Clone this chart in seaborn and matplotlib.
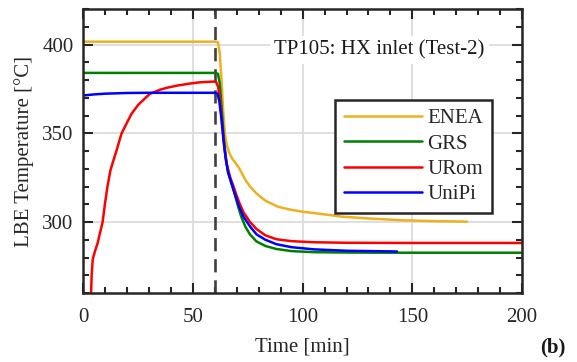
import numpy as np
import pandas as pd
import matplotlib
matplotlib.use("Agg")
import matplotlib.pyplot as plt
import seaborn as sns
from matplotlib.ticker import MultipleLocator

# ---- data ----
enea_t = [0, 60, 61.4, 62.2, 63, 63.8, 64.5, 65.5, 66.7, 68, 69.5, 71, 72.5, 74, 76, 79,
          83, 89, 95, 100, 108, 118, 130, 145, 160, 175]
enea_T = [401.6, 401.6, 401.2, 395, 380, 362, 350, 343, 338.5, 335.5, 333, 330.5, 327, 323.5,
          320, 316, 312, 308.5, 306.8, 305.8, 304.6, 303, 302, 301, 300.5, 300.2]

grs_t = [0, 60, 61.4, 62.2, 63, 64, 65, 66, 67.5, 69, 70.5, 72, 74, 76, 79, 83, 88, 95,
         105, 120, 140, 170, 200]
grs_T = [384, 384, 383.5, 378, 365, 348, 336, 328, 322, 316, 309, 303, 297, 293, 289, 286.5,
         284.8, 283.6, 283, 282.8, 282.7, 282.7, 282.7]

urom_t = [3.4, 3.8, 4.3, 5.3, 6.5, 7.6, 8.8, 9.9, 11, 12.4, 13.8, 15.2, 17.4, 19.5, 22, 25,
          28, 30.3, 34.9, 38, 43, 48, 53, 59, 60.5, 61.5, 62.5, 63.5, 64.5, 65.5, 67, 68.5,
          70, 71.2, 73, 76, 79, 83, 88, 95, 105, 120, 150, 200]
urom_T = [255, 270, 279, 283.5, 288, 293.8, 300, 310.6, 320, 329.3, 335, 340.5, 349.8, 355,
          361, 366, 369.5, 372.2, 374.5, 375.6, 376.9, 377.9, 378.7, 379.1, 379, 376, 366,
          352, 340, 332, 325, 320, 314.5, 310.6, 305.5, 300, 296, 292.5, 290.3, 289.2,
          288.6, 288.3, 288.2, 288.2]

unipi_t = [0, 5, 10, 20, 30, 60, 61.2, 62, 63, 64, 65, 66, 67.5, 69, 71, 73, 76, 79, 83, 88,
           95, 105, 120, 143]
unipi_T = [371.3, 371.9, 372.3, 372.7, 372.8, 372.8, 372.3, 368, 358, 345, 335, 328, 322,
           316, 308.7, 303, 297.5, 293, 290, 287.5, 285.8, 284.6, 283.8, 283.4]

series_names = ["ENEA", "GRS", "URom", "UniPi"]
colors = ["#EDB120", "#008000", "#FF0000", "#0000FF"]
event_time = 60
x_ticks = [0, 50, 100, 150, 200]
y_ticks = [300, 350, 400]

frames = []
for name, t, T in zip(series_names, [enea_t, grs_t, urom_t, unipi_t],
                      [enea_T, grs_T, urom_T, unipi_T]):
    frames.append(pd.DataFrame({"Time": t, "Temp": T, "Code": name}))
df = pd.concat(frames, ignore_index=True)

# ---- style ----
sns.set_theme(style="white")
plt.rcParams["font.family"] = ["Liberation Serif", "DejaVu Serif"]
FS = 15
INK = "#262626"

fig = plt.figure(figsize=(5.77, 3.62), dpi=100)
ax = fig.add_axes([0.1444, 0.1906, 0.9047 - 0.1444, 0.9751 - 0.1906])

ax.grid(True, which="major", color="#dcdcdc", linewidth=1.3)
ax.set_axisbelow(True)

ax.axvline(event_time, color="#404040", linestyle=(0, (5, 3)), linewidth=1.9, zorder=1.5)

for name, c in zip(series_names, colors):
    sub = df[df["Code"] == name]
    sns.lineplot(data=sub, x="Time", y="Temp", color=c, sort=False, estimator=None,
                 linewidth=1.8, ax=ax, label=name)

ax.set_xlim(0, 200)
ax.set_ylim(260, 420)
ax.set_xticks(x_ticks)
ax.set_yticks(y_ticks)
ax.xaxis.set_minor_locator(MultipleLocator(10))
ax.yaxis.set_minor_locator(MultipleLocator(10))
ax.tick_params(which="both", direction="in", top=True, right=True, bottom=True, left=True,
               color=INK, width=1.5, labelsize=FS, labelcolor=INK)
ax.tick_params(which="major", length=7)
ax.tick_params(which="minor", length=4)
ax.tick_params(axis="x", which="major", pad=10.5)
ax.tick_params(axis="y", which="major", pad=7)
for s in ax.spines.values():
    s.set_color(INK)
    s.set_linewidth(1.8)

ax.set_xlabel("Time [min]", fontsize=FS, color=INK, labelpad=8)
ax.set_ylabel("LBE Temperature [°C]", fontsize=FS, color=INK, labelpad=6)

ax.text(0.915, 0.856, "TP105: HX inlet (Test-2)", transform=ax.transAxes, ha="right",
        va="center", fontsize=FS, color="#1a1a1a",
        bbox=dict(facecolor="white", edgecolor="none", pad=3))

leg = ax.legend(loc="upper left", bbox_to_anchor=(0.574, 0.68), fontsize=FS, frameon=True,
                fancybox=False, handlelength=3.75, handletextpad=0.25, borderpad=0.42,
                labelspacing=0.28, borderaxespad=0, framealpha=1)
leg.get_frame().set_edgecolor(INK)
leg.get_frame().set_linewidth(1.8)
for line in leg.get_lines():
    line.set_linewidth(1.8)

fig.text(0.958, 0.04, "(b)", fontsize=FS, fontweight="bold", ha="center", va="center",
         color="#1a1a1a")

fig.savefig("out.png", dpi=100)
